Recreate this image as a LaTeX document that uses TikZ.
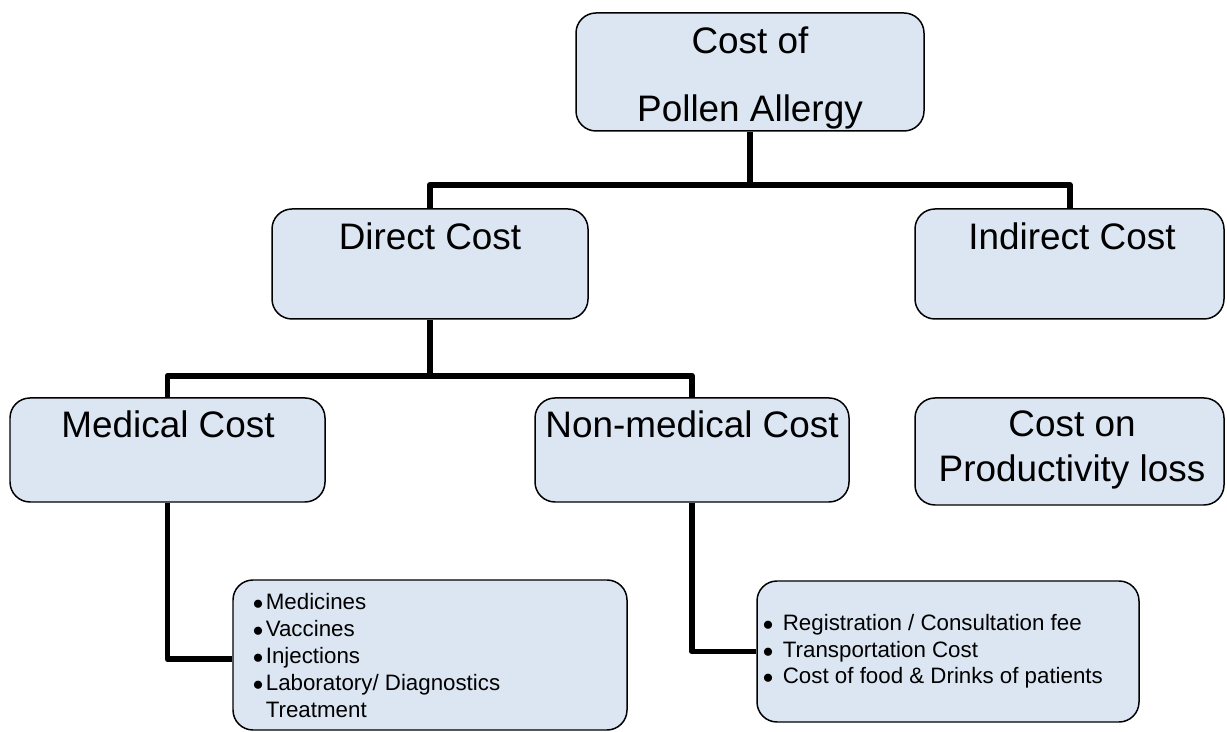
\documentclass[tikz,border=0pt]{standalone}
\usepackage{fontspec}
\setmainfont{Liberation Sans}
\usetikzlibrary{fit}

\definecolor{boxblue}{RGB}{220,230,242}
\tikzset{
  box/.style={draw=black, line width=0.85pt, fill=boxblue, rounded corners=0.4cm, inner sep=0pt},
  head/.style={font=\fontsize{21}{25}\selectfont, inner sep=0pt, anchor=base},
  list/.style={inner sep=0pt, anchor=base west},
  link/.style={line width=3.4pt, line join=round}
}

\begin{document}
\begin{tikzpicture}[x=0.02cm, y=-0.02cm]
\useasboundingbox (0,0) rectangle (1227,732);

% boxes
\node[box, fit={(576,13) (924,131)}] (pollen) {};
\node[box, fit={(272,209) (588,319)}] (direct) {};
\node[box, fit={(915,209) (1224,319)}] (indirect) {};
\node[box, fit={(10,398) (325,502)}] (medical) {};
\node[box, fit={(535,398) (849,502)}] (nonmed) {};
\node[box, fit={(915,398) (1224,505)}] (product) {};
\node[box, fit={(233,580) (627,730)}] (medlist) {};
\node[box, fit={(757,581) (1139,722)}] (nonmedlist) {};

% texts
\node[head, font=\fontsize{21}{38.5}\selectfont] (pollentxt) at (750,54)
  {\begin{tabular}[t]{@{}c@{}}Cost of\\Pollen Allergy\end{tabular}};
\node[head] (directtxt) at (430,250) {Direct Cost};
\node[head] (indirecttxt) at (1072,250) {Indirect Cost};
\node[head] (medicaltxt) at (168,438) {Medical Cost};
\node[head] (nonmedtxt) at (692,438) {Non-medical Cost};
\node[head, font=\fontsize{21}{25.5}\selectfont] (producttxt) at (1072,437)
  {\begin{tabular}[t]{@{}c@{}}Cost on\\Productivity loss\end{tabular}};

\node[list, font=\fontsize{12.7}{15.3}\selectfont] (medlisttxt) at (252.5,610)
  {\begin{tabular}[t]{@{}l@{\hspace{1.4pt}}l@{}}
   $\bullet$ & Medicines\\
   $\bullet$ & Vaccines\\
   $\bullet$ & Injections\\
   $\bullet$ & Laboratory/ Diagnostics\\
             & Treatment
   \end{tabular}};
\node[list, font=\fontsize{12.7}{15}\selectfont] (nonmedlisttxt) at (762.5,631)
  {\begin{tabular}[t]{@{}l@{\hspace{5.4pt}}l@{}}
   $\bullet$ & Registration / Consultation fee\\
   $\bullet$ & Transportation Cost\\
   $\bullet$ & Cost of food \& Drinks of patients
   \end{tabular}};

% connectors
\draw[link] (pollen.south) -- ++(0,53) coordinate (split1) -| (direct.north);
\draw[link] (split1) -| (indirect.north);
\draw[link] (direct.south) -- ++(0,56) coordinate (split2) -| (medical.north);
\draw[link] (split2) -| (nonmed.north);
\draw[link] (medical.south) |- ([yshift=-2.3pt]medlist.west);
\draw[link] (nonmed.south) |- (nonmedlist.west);
\end{tikzpicture}
\end{document}
